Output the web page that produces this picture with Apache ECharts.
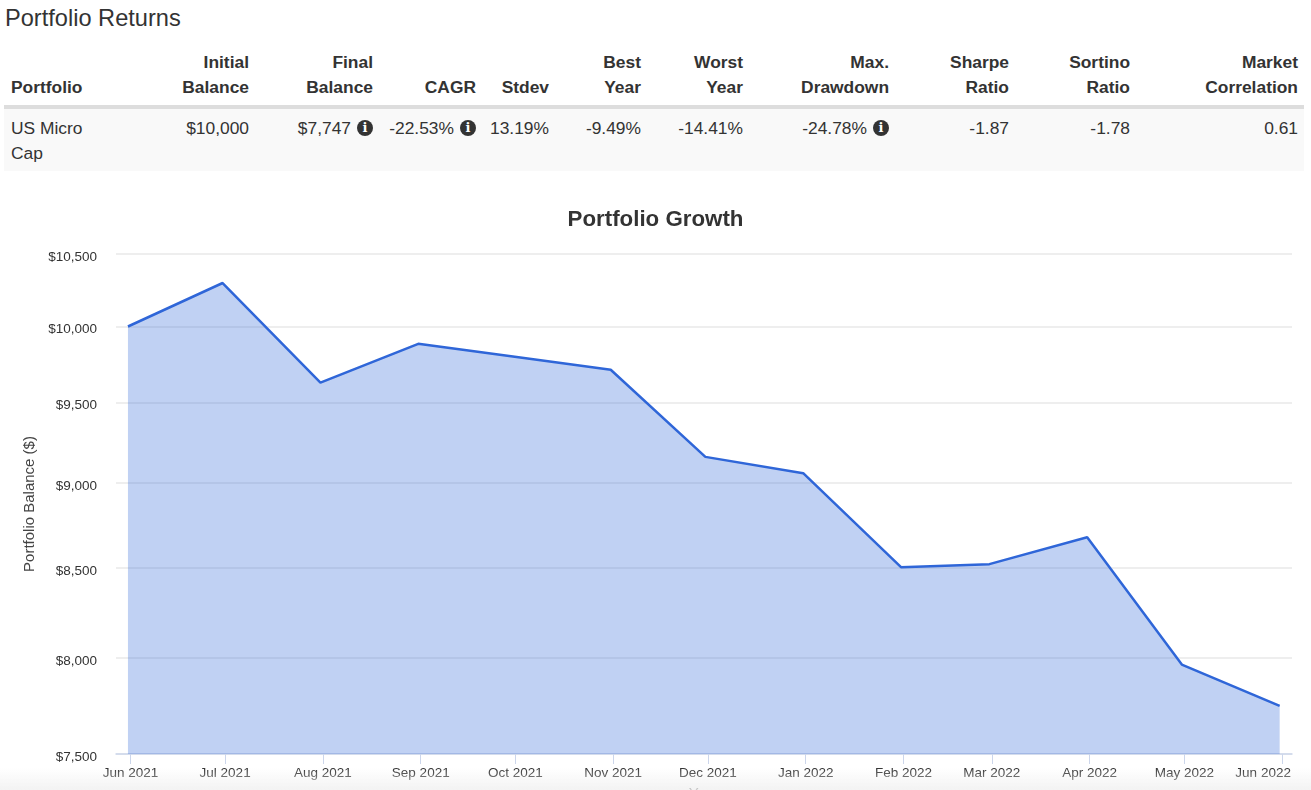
<!DOCTYPE html>
<html>
<head>
<meta charset="utf-8">
<title>Portfolio Returns</title>
<script src="https://cdn.jsdelivr.net/npm/echarts@6/dist/echarts.min.js"></script>
<style>
  html, body { margin: 0; padding: 0; background: #fff; overflow: hidden; }
  body { width: 1311px; height: 790px; position: relative; font-family: "Liberation Sans", Arial, sans-serif; color: #333; }
  h1 { position: absolute; left: 5px; top: 6px; margin: 0; font-size: 23.6px; line-height: 24px; font-weight: normal; }
  table { position: absolute; left: 4px; top: 50px; width: 1300px; border-collapse: collapse; table-layout: fixed; font-size: 17.4px; line-height: 25px; }
  th { font-weight: bold; text-align: right; vertical-align: bottom; padding: 0 7px 5px 7px; border-bottom: 4px solid #ddd; }
  td { text-align: right; vertical-align: top; padding: 7px 7px 5px 7px; background: #f9f9f9; white-space: nowrap; }
  th:first-child, td:first-child { text-align: left; white-space: normal; }
  th:last-child, td:last-child { padding-right: 6px; }
  td:first-child { padding-right: 40px; }
  .info { display: inline-block; width: 16px; height: 16px; margin-left: 6px; border-radius: 50%; background: #333; color: #fff; font: bold 13px/16px "DejaVu Serif", serif; text-align: center; vertical-align: 2px; }
  #chart { position: absolute; left: 0; top: 190px; width: 1311px; height: 600px; }
  #fade { position: absolute; left: 0; right: 0; bottom: 0; height: 22px; background: linear-gradient(rgba(240,240,240,0), rgba(240,240,240,0.8)); }
</style>
</head>
<body>
<h1>Portfolio Returns</h1>
<table id="returns"></table>
<div id="chart"></div>
<div id="fade"></div>
<script>
// table
const tableHead = ["Portfolio", "Initial<br>Balance", "Final<br>Balance", "CAGR", "Stdev", "Best<br>Year", "Worst<br>Year", "Max.<br>Drawdown", "Sharpe<br>Ratio", "Sortino<br>Ratio", "Market<br>Correlation"];
const tableRow = ["US Micro Cap", "$10,000", "$7,747", "-22.53%", "13.19%", "-9.49%", "-14.41%", "-24.78%", "-1.87", "-1.78", "0.61"];
const infoCols = [2, 3, 7];
const colWidths = [137, 115, 124, 103, 73, 92, 102, 146, 120, 121, 167];

// chart data, point dates sit just before the month ticks
const pointDates = ["2021-05-31T05:00Z", "2021-06-30T05:00Z", "2021-07-31T05:00Z", "2021-08-31T05:00Z", "2021-09-30T05:00Z", "2021-10-31T05:00Z", "2021-11-30T05:00Z", "2021-12-31T05:00Z", "2022-01-31T05:00Z", "2022-02-28T05:00Z", "2022-03-31T05:00Z", "2022-04-30T05:00Z", "2022-05-31T05:00Z"];
const balances = [10000, 10297, 9629, 9884, 9800, 9713, 9160, 9060, 8505, 8522, 8678, 7965, 7747];
const monthTicks = ["2021-06-01", "2021-07-01", "2021-08-01", "2021-09-01", "2021-10-01", "2021-11-01", "2021-12-01", "2022-01-01", "2022-02-01", "2022-03-01", "2022-04-01", "2022-05-01", "2022-06-01"];
const monthLabels = ["Jun 2021", "Jul 2021", "Aug 2021", "Sep 2021", "Oct 2021", "Nov 2021", "Dec 2021", "Jan 2022", "Feb 2022", "Mar 2022", "Apr 2022", "May 2022", "Jun 2022"];
const yTicks = [7500, 8000, 8500, 9000, 9500, 10000, 10500];

document.getElementById("returns").innerHTML =
  "<colgroup>" + colWidths.map((w) => `<col style="width:${w}px">`).join("") + "</colgroup>" +
  "<tr>" + tableHead.map((h) => `<th>${h}</th>`).join("") + "</tr>" +
  "<tr>" + tableRow.map((v, i) => `<td>${v}${infoCols.includes(i) ? '<span class="info">i</span>' : ""}</td>`).join("") + "</tr>";

const tickTimes = monthTicks.map((d) => Date.parse(d + "T00:00Z"));
const labelFont = { fontFamily: "Liberation Sans", fontSize: 13.5, color: "#333" };

const chart = echarts.init(document.getElementById("chart"), null, { renderer: "canvas" });
chart.setOption({
  animation: false,
  title: {
    text: "Portfolio Growth",
    left: "center",
    top: 14,
    textStyle: { fontFamily: "Liberation Sans", fontSize: 22.3, fontWeight: "bold", color: "#333" },
  },
  grid: { left: 116, right: 19, top: 64, bottom: 36, outerBoundsMode: "none" },
  xAxis: {
    // value axis over timestamps, the time axis does not take custom month ticks
    type: "value",
    min: Date.parse("2021-05-27T10:00Z"),
    max: Date.parse("2022-06-04T03:00Z"),
    name: "Year",
    nameLocation: "middle",
    nameGap: 32,
    nameTextStyle: { fontFamily: "Liberation Sans", fontSize: 15, color: "#444" },
    axisLine: { lineStyle: { color: "#ccd6eb", width: 1.5 } },
    axisTick: { customValues: tickTimes, length: 10, lineStyle: { color: "#ccd6eb" } },
    axisLabel: {
      customValues: tickTimes,
      margin: 12,
      hideOverlap: false,
      ...labelFont,
      // last label is pulled back inside the plot
      formatter: (v) => {
        const i = tickTimes.indexOf(v);
        return i === tickTimes.length - 1 ? `{last|${monthLabels[i]}}` : monthLabels[i];
      },
      rich: { last: { ...labelFont, padding: [0, 38, 0, 0] } },
    },
    splitLine: { show: false },
  },
  yAxis: {
    type: "log",
    min: 7500,
    max: 10500,
    name: "Portfolio Balance ($)",
    nameLocation: "middle",
    nameGap: 78,
    nameTextStyle: { fontFamily: "Liberation Sans", fontSize: 15, color: "#444" },
    axisLine: { show: false },
    axisTick: { show: false, customValues: yTicks },
    axisLabel: {
      customValues: yTicks,
      margin: 19,
      ...labelFont,
      formatter: (v) => "{tick|$" + Math.round(v).toLocaleString("en-US") + "}",
      rich: { tick: { ...labelFont, padding: [6, 0, 0, 0] } },
    },
    splitLine: { show: true, lineStyle: { color: "#e9e9e9", width: 1.5 } },
  },
  series: [
    {
      type: "line",
      data: pointDates.map((d, i) => [Date.parse(d), balances[i]]),
      symbol: "none",
      lineStyle: { color: "#2f66d8", width: 2.5 },
      areaStyle: { color: "rgba(47,102,216,0.3)", opacity: 1, origin: "start" },
    },
  ],
});
</script>
</body>
</html>
